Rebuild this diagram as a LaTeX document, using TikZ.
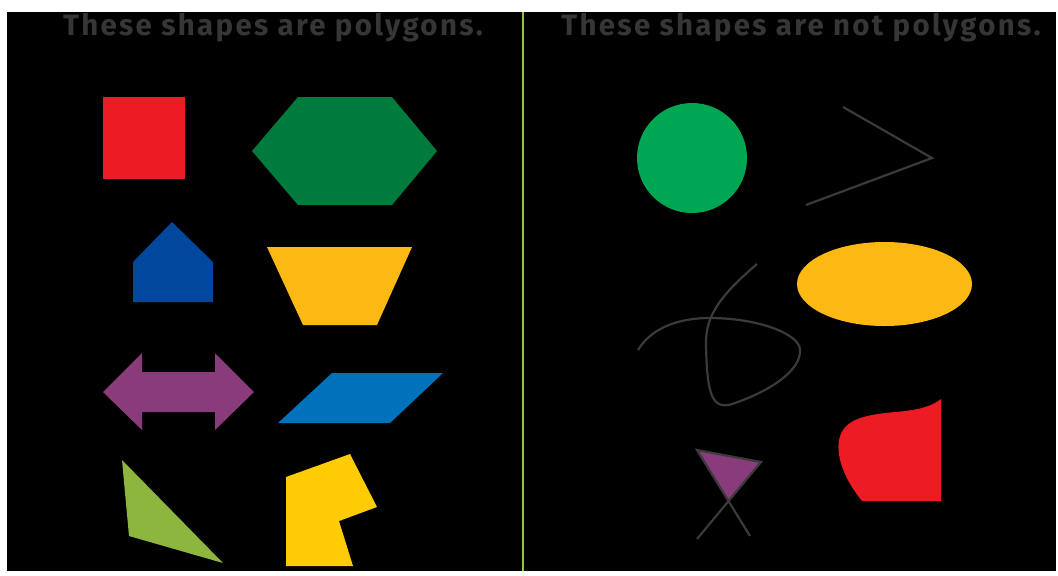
\documentclass[tikz,border=0pt]{standalone}
\usepackage{fontspec}
\usepackage{tikz}
\newfontfamily\titlefont[LetterSpace=8]{Fira Sans}
\definecolor{BoardBlack}{HTML}{000000}
\definecolor{TitleGray}{HTML}{363636}
\definecolor{LineGray}{HTML}{3A3A3A}
\definecolor{Divider}{HTML}{8CC63F}
\definecolor{SquareRed}{HTML}{ED1C24}
\definecolor{HexGreen}{HTML}{007A3D}
\definecolor{HouseBlue}{HTML}{00479D}
\definecolor{Amber}{HTML}{FDB913}
\definecolor{Plum}{HTML}{893B7B}
\definecolor{SkyBlue}{HTML}{0072BC}
\definecolor{Lime}{HTML}{8DB63F}
\definecolor{Gold}{HTML}{FFCB05}
\definecolor{Emerald}{HTML}{00A651}

\begin{document}
\begin{tikzpicture}[x=0.5pt,y=-0.5pt,
    title/.style={anchor=base,inner sep=0pt,text=TitleGray,
                  font=\titlefont\bfseries\fontsize{14.7}{16}\selectfont},
    wire/.style={draw=LineGray,line width=1.1pt,line join=miter}]
    \useasboundingbox (0,0) rectangle (1058,575);
    \fill[white] (0,0) rectangle (1058,575);
    \fill[BoardBlack] (7,12) rectangle (1056,571);
    \draw[Divider,line width=1.1pt] (523,12) -- (523,571);
    \node[title] (yes) at (273,35) {These shapes are polygons.};
    \node[title] (no) at (801,35) {These shapes are not polygons.};
    % polygons
    \fill[SquareRed] (103,97) rectangle (185,179);
    \fill[HexGreen] (252,151) -- (298,97) -- (392,97) -- (437,151) -- (392,205) -- (298,205) -- cycle;
    \fill[HouseBlue] (172,222) -- (213,262) -- (213,302) -- (133,302) -- (133,262) -- cycle;
    \fill[Amber] (267,247) -- (412,247) -- (377,325) -- (303,325) -- cycle;
    \fill[Plum] (103,392) -- (142,353) -- (142,372) -- (215,372) -- (215,353) -- (254,392)
      -- (215,430) -- (215,412) -- (142,412) -- (142,430) -- cycle;
    \fill[SkyBlue] (332,373) -- (443,373) -- (390,423) -- (278,423) -- cycle;
    \fill[Lime] (122,460) -- (223,563) -- (129,536) -- cycle;
    \fill[Gold] (286,477) -- (350,454) -- (377,507) -- (339,521) -- (353,566) -- (286,566) -- cycle;
    % not polygons
    \fill[Emerald] (692,158) circle[radius=55];
    \draw[wire] (843,107) -- (932,158) -- (806,205);
    \fill[Amber] (884.5,284) ellipse[x radius=87.5,y radius=42];
    \draw[wire] (757,264) .. controls (722,294) and (705,315) .. (706,345)
      .. controls (707,395) and (712,412) .. (735,403)
      .. controls (772,390) and (801,370) .. (800,350)
      .. controls (800,334) and (758,318) .. (710,318)
      .. controls (675,318) and (650,330) .. (638,350);
    \fill[Plum] (697,450) -- (761,462) -- (728,500) -- cycle;
    \draw[wire] (697,539) -- (761,462) -- (697,450) -- (750,536);
    \fill[SquareRed] (941,399) -- (941,501) -- (862,501)
      .. controls (845,480) and (836,458) .. (839,440)
      .. controls (843,420) and (862,415) .. (895,412)
      .. controls (920,410) and (932,406) .. (941,399) -- cycle;
\end{tikzpicture}
\end{document}
